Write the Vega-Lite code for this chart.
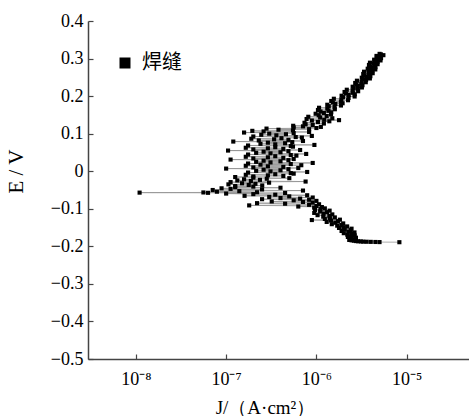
{
  "$schema": "https://vega.github.io/schema/vega-lite/v6.json",
  "width": 381,
  "height": 338,
  "autosize": {"type": "none"},
  "padding": {"left": 88, "top": 21, "right": 0, "bottom": 57},
  "background": "white",
  "config": {
    "view": {"stroke": null},
    "axis": {
      "labelFont": "Liberation Serif",
      "titleFont": "Liberation Serif",
      "labelFontSize": 18,
      "titleFontSize": 19,
      "labelColor": "black",
      "titleColor": "black",
      "titleFontWeight": "normal",
      "domainColor": "#444",
      "domainWidth": 1.5,
      "tickColor": "#444",
      "tickWidth": 1.2,
      "grid": false
    }
  },
  "data": {
    "values": [
      {"E": -0.189, "J": 8.3e-6}, {"E": -0.1887, "J": 5.0e-6}, {"E": -0.1884, "J": 4.5e-6}, {"E": -0.1881, "J": 4.0e-6},
      {"E": -0.1878, "J": 3.6e-6}, {"E": -0.1875, "J": 3.3e-6}, {"E": -0.187, "J": 3.1e-6}, {"E": -0.1865, "J": 2.9e-6},
      {"E": -0.186, "J": 2.75e-6}, {"E": -0.185, "J": 2.6e-6}, {"E": -0.184, "J": 2.45e-6},
      {"E": -0.183, "J": 2.31e-6}, {"E": -0.181, "J": 2.62e-6}, {"E": -0.179, "J": 2.41e-6}, {"E": -0.177, "J": 2.74e-6},
      {"E": -0.175, "J": 2.23e-6}, {"E": -0.173, "J": 2.43e-6}, {"E": -0.171, "J": 2.66e-6}, {"E": -0.169, "J": 2.2e-6},
      {"E": -0.167, "J": 2.45e-6}, {"E": -0.165, "J": 2.01e-6}, {"E": -0.163, "J": 2.64e-6}, {"E": -0.161, "J": 2.26e-6},
      {"E": -0.159, "J": 1.9e-6}, {"E": -0.157, "J": 2.4e-6}, {"E": -0.155, "J": 2.06e-6}, {"E": -0.153, "J": 2.45e-6},
      {"E": -0.151, "J": 1.78e-6}, {"E": -0.149, "J": 1.99e-6}, {"E": -0.147, "J": 2.19e-6}, {"E": -0.145, "J": 1.7e-6},
      {"E": -0.143, "J": 1.89e-6}, {"E": -0.141, "J": 1.48e-6}, {"E": -0.139, "J": 1.98e-6}, {"E": -0.137, "J": 1.62e-6},
      {"E": -0.135, "J": 1.3e-6}, {"E": -0.133, "J": 1.73e-6}, {"E": -0.131, "J": 1.45e-6}, {"E": -0.130, "J": 8.9e-7},
      {"E": -0.129, "J": 1.82e-6}, {"E": -0.127, "J": 1.24e-6}, {"E": -0.125, "J": 1.41e-6}, {"E": -0.123, "J": 1.6e-6},
      {"E": -0.121, "J": 1.19e-6}, {"E": -0.119, "J": 1.39e-6}, {"E": -0.117, "J": 1.03e-6}, {"E": -0.115, "J": 1.5e-6},
      {"E": -0.113, "J": 1.2e-6}, {"E": -0.111, "J": 9.46e-7}, {"E": -0.109, "J": 1.31e-6}, {"E": -0.107, "J": 1.1e-6},
      {"E": -0.105, "J": 1.4e-6}, {"E": -0.103, "J": 9.66e-7}, {"E": -0.101, "J": 1.11e-6}, {"E": -0.099, "J": 1.24e-6},
      {"E": -0.097, "J": 9.44e-7},
      {"E": -0.0955, "J": 1.15e-6}, {"E": -0.094, "J": 6.3e-7}, {"E": -0.0925, "J": 1.0e-6}, {"E": -0.091, "J": 1.8e-7},
      {"E": -0.0895, "J": 8.3e-7}, {"E": -0.088, "J": 1.07e-6}, {"E": -0.0865, "J": 4.5e-7}, {"E": -0.085, "J": 2.2e-7},
      {"E": -0.0835, "J": 9.1e-7}, {"E": -0.082, "J": 7.1e-7}, {"E": -0.0805, "J": 3.2e-7}, {"E": -0.079, "J": 1.0e-6},
      {"E": -0.0775, "J": 5.6e-7}, {"E": -0.076, "J": 8.3e-7}, {"E": -0.0745, "J": 2.5e-7}, {"E": -0.073, "J": 6.6e-7},
      {"E": -0.0715, "J": 4.0e-7}, {"E": -0.070, "J": 9.1e-7}, {"E": -0.0685, "J": 3.0e-7}, {"E": -0.067, "J": 5.0e-7},
      {"E": -0.0655, "J": 1.6e-7}, {"E": -0.064, "J": 7.9e-7}, {"E": -0.0625, "J": 3.5e-7}, {"E": -0.061, "J": 2.0e-7},
      {"E": -0.0595, "J": 1.0e-7}, {"E": -0.058, "J": 4.5e-7}, {"E": -0.0575, "J": 6.3e-8}, {"E": -0.057, "J": 1.1e-8},
      {"E": -0.0565, "J": 5.6e-8}, {"E": -0.056, "J": 2.2e-7}, {"E": -0.0545, "J": 7.9e-8}, {"E": -0.053, "J": 1.4e-7},
      {"E": -0.0515, "J": 7.1e-7}, {"E": -0.050, "J": 7.1e-8}, {"E": -0.0485, "J": 2.5e-7}, {"E": -0.047, "J": 1.12e-7},
      {"E": -0.0455, "J": 8.9e-8}, {"E": -0.044, "J": 4.0e-7}, {"E": -0.0425, "J": 1.26e-7}, {"E": -0.041, "J": 2.0e-7},
      {"E": -0.0395, "J": 1.26e-7}, {"E": -0.038, "J": 2.51e-7}, {"E": -0.0365, "J": 1.78e-7}, {"E": -0.035, "J": 1.06e-7},
      {"E": -0.0335, "J": 2.11e-7}, {"E": -0.032, "J": 1.5e-7}, {"E": -0.0305, "J": 2.99e-7}, {"E": -0.029, "J": 1.12e-7},
      {"E": -0.0275, "J": 7.59e-7}, {"E": -0.026, "J": 1.88e-7}, {"E": -0.0245, "J": 1.33e-7}, {"E": -0.023, "J": 2.37e-7},
      {"E": -0.0215, "J": 1.58e-7}, {"E": -0.020, "J": 2.82e-7}, {"E": -0.0185, "J": 5.01e-7}, {"E": -0.017, "J": 2.0e-7},
      {"E": -0.0155, "J": 1.26e-7},
      {"E": -0.014, "J": 2.0e-7}, {"E": -0.0125, "J": 4.3e-7}, {"E": -0.011, "J": 2.9e-7}, {"E": -0.0095, "J": 1.65e-7},
      {"E": -0.008, "J": 3.5e-7}, {"E": -0.0065, "J": 5.6e-7}, {"E": -0.005, "J": 5.2e-7}, {"E": -0.0035, "J": 1.75e-7},
      {"E": -0.002, "J": 7.9e-7}, {"E": -0.0005, "J": 3.1e-7}, {"E": 0.001, "J": 2.15e-7}, {"E": 0.0025, "J": 4.0e-7},
      {"E": 0.004, "J": 2.6e-7}, {"E": 0.0055, "J": 4.9e-7}, {"E": 0.007, "J": 1.0e-7}, {"E": 0.0085, "J": 6.3e-7},
      {"E": 0.010, "J": 2.0e-7}, {"E": 0.0115, "J": 4.3e-7}, {"E": 0.013, "J": 2.9e-7}, {"E": 0.0145, "J": 1.65e-7},
      {"E": 0.016, "J": 6.8e-7}, {"E": 0.0175, "J": 2.4e-7}, {"E": 0.019, "J": 5.2e-7}, {"E": 0.0205, "J": 1.75e-7},
      {"E": 0.022, "J": 9.1e-7}, {"E": 0.0235, "J": 3.1e-7}, {"E": 0.025, "J": 2.15e-7}, {"E": 0.0265, "J": 4.0e-7},
      {"E": 0.028, "J": 2.6e-7}, {"E": 0.0295, "J": 4.9e-7}, {"E": 0.031, "J": 1.12e-7}, {"E": 0.0325, "J": 5.6e-7},
      {"E": 0.034, "J": 2.0e-7}, {"E": 0.0355, "J": 4.3e-7}, {"E": 0.037, "J": 2.9e-7}, {"E": 0.0385, "J": 1.65e-7},
      {"E": 0.040, "J": 3.5e-7}, {"E": 0.0415, "J": 6.0e-7}, {"E": 0.043, "J": 5.2e-7}, {"E": 0.0445, "J": 1.75e-7},
      {"E": 0.046, "J": 7.7e-7}, {"E": 0.0475, "J": 3.1e-7}, {"E": 0.049, "J": 2.15e-7}, {"E": 0.0505, "J": 4.0e-7},
      {"E": 0.052, "J": 2.6e-7}, {"E": 0.0535, "J": 4.9e-7}, {"E": 0.055, "J": 1.05e-7}, {"E": 0.0565, "J": 6.6e-7},
      {"E": 0.058, "J": 2.0e-7}, {"E": 0.0595, "J": 4.3e-7}, {"E": 0.061, "J": 2.9e-7}, {"E": 0.0625, "J": 1.65e-7},
      {"E": 0.064, "J": 3.5e-7}, {"E": 0.0655, "J": 5.5e-7}, {"E": 0.067, "J": 5.2e-7}, {"E": 0.0685, "J": 1.75e-7},
      {"E": 0.070, "J": 9.5e-7}, {"E": 0.0715, "J": 3.5e-7}, {"E": 0.073, "J": 2.4e-7}, {"E": 0.0745, "J": 4.5e-7},
      {"E": 0.076, "J": 2.9e-7}, {"E": 0.0775, "J": 5.4e-7}, {"E": 0.079, "J": 1.2e-7}, {"E": 0.0805, "J": 7.1e-7},
      {"E": 0.082, "J": 2.3e-7}, {"E": 0.0835, "J": 4.9e-7}, {"E": 0.085, "J": 3.4e-7}, {"E": 0.0865, "J": 1.9e-7},
      {"E": 0.088, "J": 4.1e-7}, {"E": 0.0895, "J": 6.9e-7}, {"E": 0.091, "J": 5.9e-7}, {"E": 0.0925, "J": 2.0e-7},
      {"E": 0.094, "J": 8.9e-7}, {"E": 0.0955, "J": 3.6e-7}, {"E": 0.097, "J": 2.45e-7}, {"E": 0.0985, "J": 4.6e-7},
      {"E": 0.100, "J": 3.0e-7}, {"E": 0.1015, "J": 5.6e-7}, {"E": 0.103, "J": 1.58e-7}, {"E": 0.1045, "J": 8.3e-7},
      {"E": 0.106, "J": 2.6e-7}, {"E": 0.1075, "J": 1.95e-7}, {"E": 0.109, "J": 5.5e-7}, {"E": 0.1105, "J": 3.8e-7},
      {"E": 0.112, "J": 8.3e-7}, {"E": 0.1135, "J": 2.8e-7}, {"E": 0.115, "J": 1.0e-6}, {"E": 0.1165, "J": 5.6e-7},
      {"E": 0.118, "J": 1.12e-6}, {"E": 0.1195, "J": 7.1e-7},
      {"E": 0.121, "J": 5.53e-7}, {"E": 0.123, "J": 9.1e-7}, {"E": 0.125, "J": 7.59e-7}, {"E": 0.127, "J": 1.21e-6},
      {"E": 0.129, "J": 7.38e-7}, {"E": 0.131, "J": 1.04e-6}, {"E": 0.133, "J": 1.39e-6}, {"E": 0.135, "J": 8.9e-7},
      {"E": 0.136, "J": 1.78e-6}, {"E": 0.137, "J": 1.22e-6}, {"E": 0.139, "J": 7.78e-7}, {"E": 0.141, "J": 1.5e-6},
      {"E": 0.143, "J": 1.1e-6}, {"E": 0.145, "J": 8.13e-7}, {"E": 0.147, "J": 1.3e-6}, {"E": 0.149, "J": 1.06e-6},
      {"E": 0.151, "J": 1.45e-6}, {"E": 0.153, "J": 9.8e-7}, {"E": 0.155, "J": 1.21e-6}, {"E": 0.157, "J": 1.46e-6},
      {"E": 0.159, "J": 1.11e-6}, {"E": 0.161, "J": 1.36e-6}, {"E": 0.163, "J": 1.04e-6}, {"E": 0.165, "J": 1.6e-6},
      {"E": 0.167, "J": 1.32e-6}, {"E": 0.169, "J": 1.07e-6}, {"E": 0.171, "J": 1.59e-6}, {"E": 0.173, "J": 1.37e-6},
      {"E": 0.175, "J": 1.87e-6}, {"E": 0.177, "J": 1.32e-6}, {"E": 0.179, "J": 1.62e-6}, {"E": 0.181, "J": 1.95e-6},
      {"E": 0.183, "J": 1.52e-6}, {"E": 0.185, "J": 1.87e-6}, {"E": 0.187, "J": 1.46e-6}, {"E": 0.189, "J": 2.24e-6},
      {"E": 0.191, "J": 1.89e-6}, {"E": 0.193, "J": 1.56e-6}, {"E": 0.195, "J": 2.27e-6}, {"E": 0.197, "J": 1.97e-6},
      {"E": 0.199, "J": 2.65e-6}, {"E": 0.201, "J": 1.9e-6}, {"E": 0.203, "J": 2.28e-6}, {"E": 0.205, "J": 2.66e-6},
      {"E": 0.207, "J": 2.13e-6}, {"E": 0.209, "J": 2.53e-6}, {"E": 0.211, "J": 2.05e-6}, {"E": 0.213, "J": 2.9e-6},
      {"E": 0.215, "J": 2.52e-6}, {"E": 0.217, "J": 2.17e-6}, {"E": 0.219, "J": 2.88e-6}, {"E": 0.221, "J": 2.59e-6},
      {"E": 0.223, "J": 3.19e-6}, {"E": 0.225, "J": 2.52e-6}, {"E": 0.227, "J": 2.88e-6}, {"E": 0.229, "J": 3.24e-6},
      {"E": 0.231, "J": 2.76e-6}, {"E": 0.233, "J": 3.15e-6}, {"E": 0.235, "J": 2.69e-6}, {"E": 0.237, "J": 3.52e-6},
      {"E": 0.239, "J": 3.17e-6}, {"E": 0.241, "J": 2.81e-6}, {"E": 0.243, "J": 3.55e-6}, {"E": 0.245, "J": 3.25e-6},
      {"E": 0.247, "J": 3.91e-6}, {"E": 0.249, "J": 3.18e-6}, {"E": 0.251, "J": 3.58e-6}, {"E": 0.253, "J": 3.96e-6},
      {"E": 0.255, "J": 3.4e-6}, {"E": 0.257, "J": 3.82e-6}, {"E": 0.259, "J": 3.3e-6}, {"E": 0.261, "J": 4.2e-6},
      {"E": 0.263, "J": 3.78e-6}, {"E": 0.265, "J": 3.37e-6}, {"E": 0.267, "J": 4.15e-6}, {"E": 0.269, "J": 3.81e-6},
      {"E": 0.271, "J": 4.49e-6}, {"E": 0.273, "J": 3.7e-6}, {"E": 0.275, "J": 4.11e-6}, {"E": 0.277, "J": 4.51e-6},
      {"E": 0.279, "J": 3.94e-6}, {"E": 0.281, "J": 4.37e-6}, {"E": 0.283, "J": 3.82e-6}, {"E": 0.285, "J": 4.76e-6},
      {"E": 0.287, "J": 4.35e-6}, {"E": 0.289, "J": 3.92e-6}, {"E": 0.291, "J": 4.75e-6}, {"E": 0.293, "J": 4.42e-6},
      {"E": 0.295, "J": 5.13e-6}, {"E": 0.297, "J": 4.36e-6}, {"E": 0.299, "J": 4.8e-6}, {"E": 0.301, "J": 5.2e-6},
      {"E": 0.303, "J": 4.68e-6}, {"E": 0.305, "J": 5.12e-6}, {"E": 0.307, "J": 4.63e-6}, {"E": 0.309, "J": 5.52e-6},
      {"E": 0.311, "J": 5.19e-6}, {"E": 0.3125, "J": 5.01e-6}
    ]
  },
  "encoding": {
    "x": {
      "field": "J",
      "type": "quantitative",
      "scale": {"type": "log", "domain": [2.95e-9, 4.9e-5], "nice": false},
      "axis": {
        "values": [1e-8, 1e-7, 1e-6, 1e-5],
        "labelExpr": "'10' + ['⁻⁸','⁻⁷','⁻⁶','⁻⁵'][round(log(datum.value)/LN10)+8]",
        "tickSize": -5,
        "labelPadding": 16,
        "labelBaseline": "top",
        "title": "J/（A·cm²）",
        "titleX": 177,
        "titleY": 54,
        "titleBaseline": "alphabetic",
        "titleAlign": "center"
      }
    },
    "y": {
      "field": "E",
      "type": "quantitative",
      "scale": {"domain": [-0.5, 0.4], "nice": false, "zero": false},
      "axis": {
        "values": [-0.5, -0.4, -0.3, -0.2, -0.1, 0, 0.1, 0.2, 0.3, 0.4],
        "format": ".1~f",
        "tickSize": -5,
        "labelPadding": 10,
        "title": "E / V",
        "titleFontSize": 21,
        "titleAngle": 270,
        "titleX": -72,
        "titleY": 150,
        "titleAlign": "center",
        "titleBaseline": "middle"
      }
    }
  },
  "layer": [
    {
      "mark": {"type": "line", "stroke": "#8a8a8a", "strokeWidth": 0.7},
      "encoding": {"order": {"field": "E", "type": "quantitative"}}
    },
    {
      "mark": {"type": "point", "shape": "square", "filled": true, "size": 17, "opacity": 1},
      "encoding": {
        "color": {
          "datum": "焊缝",
          "scale": {"range": ["black"]},
          "legend": {
            "title": null,
            "orient": "none",
            "legendX": 27,
            "legendY": 32,
            "padding": 0,
            "symbolType": "square",
            "symbolSize": 90,
            "symbolFillColor": "black",
            "symbolStrokeColor": "black",
            "labelFont": "Noto Sans CJK SC",
            "labelFontSize": 20,
            "labelColor": "black",
            "labelOffset": 7
          }
        }
      }
    }
  ]
}
